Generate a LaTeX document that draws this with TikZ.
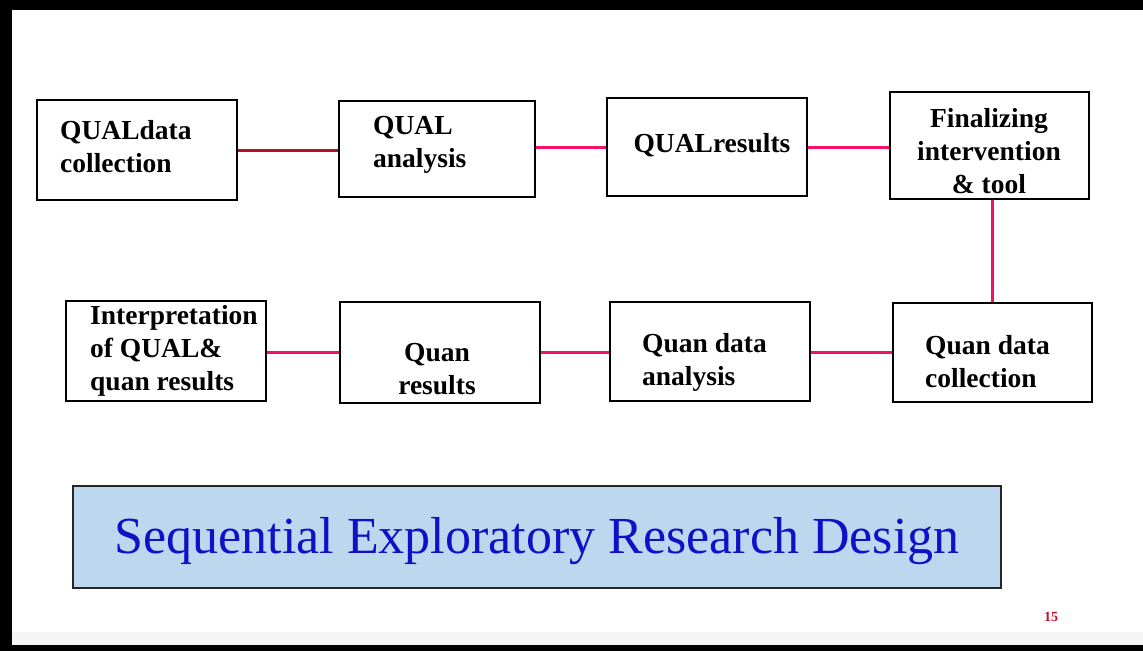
\documentclass[tikz,border=0pt]{standalone}
\usepackage{fontspec}
\setmainfont{Liberation Serif}[BoldFont={Liberation Serif Bold}]
\definecolor{linkred}{HTML}{B0122E}
\definecolor{linkpink}{HTML}{F5106A}
\definecolor{titlefill}{HTML}{BDD7EE}
\definecolor{titleblue}{HTML}{1010C8}
\definecolor{pagered}{HTML}{C8102E}
\begin{document}
\begin{tikzpicture}[x=1pt,y=-1pt,
  box/.style={draw=black, line width=2.6pt, fill=white, inner sep=0pt},
  lbl/.style={font=\fontsize{27.5}{33}\selectfont\bfseries, inner sep=0pt, align=left},
  lblc/.style={font=\fontsize{27.5}{33}\selectfont\bfseries, inner sep=0pt, align=center},
  link/.style={line width=3pt, draw=linkpink},
  darklink/.style={line width=3pt, draw=linkred}]
\useasboundingbox (0,0) rectangle (1143,651);
\fill[white] (0,0) rectangle (1143,651);
% frame
\fill[black!4] (12,632) rectangle (1143,645);
\fill[black] (0,0) rectangle (1143,10);
\fill[black] (0,0) rectangle (12,651);
\fill[black] (0,645) rectangle (1143,651);

% boxes
\node[box, minimum width=200pt, minimum height=100pt] (b1) at (137,150) {};
\node[box, minimum width=196pt, minimum height=96pt] (b2) at (437,149) {};
\node[box, minimum width=200pt, minimum height=98pt] (b3) at (707,147) {};
\node[box, minimum width=199pt, minimum height=107pt] (b4) at (989.5,145.5) {};
\node[box, minimum width=199pt, minimum height=99pt] (b5) at (992.5,352.5) {};
\node[box, minimum width=200pt, minimum height=99pt] (b6) at (710,351.5) {};
\node[box, minimum width=200pt, minimum height=101pt] (b7) at (440,352.5) {};
\node[box, minimum width=200pt, minimum height=100pt] (b8) at (166,351) {};

% labels
\node[lbl, anchor=west] (t1) at (60,147) {QUALdata\\collection};
\node[lbl, anchor=west] (t2) at (373,145) {QUAL\\analysis};
\node[lblc] (t3) at (712,145) {QUALresults};
\node[lblc] (t4) at (989,151) {Finalizing\\intervention\\\& tool};
\node[lbl, anchor=west] (t5) at (925,362) {Quan data\\collection};
\node[lbl, anchor=west] (t6) at (642,362) {Quan data\\analysis};
\node[lblc] (t7) at (437,369) {Quan\\results};
\node[lbl, anchor=west] (t8) at (90,351) {Interpretation\\of QUAL\&\\quan results};

% connectors
\draw[darklink] (b1.east) -- (b1.east -| b2.west);
\draw[link] (b3.west -| b2.east) -- (b3.west);
\draw[link] (b3.east) -- (b3.east -| b4.west);
\draw[link] (b4.south -| b5.north) -- (b5.north);
\draw[link] (b5.west) -- (b5.west -| b6.east);
\draw[link] (b5.west -| b6.west) -- (b5.west -| b7.east);
\draw[link] (b5.west -| b7.west) -- (b5.west -| b8.east);

% title
\node[draw=black!85, line width=2pt, fill=titlefill, minimum width=928pt, minimum height=102pt, inner sep=0pt] (title) at (537,537) {};
\node[text=titleblue, font=\fontsize{52}{60}\selectfont, inner sep=0pt] (titletext) at (537,541) {Sequential Exploratory Research Design};

% page number
\node[text=pagered, font=\fontsize{14}{16}\selectfont\bfseries, inner sep=0pt] (page) at (1051,617) {15};
\end{tikzpicture}
\end{document}
